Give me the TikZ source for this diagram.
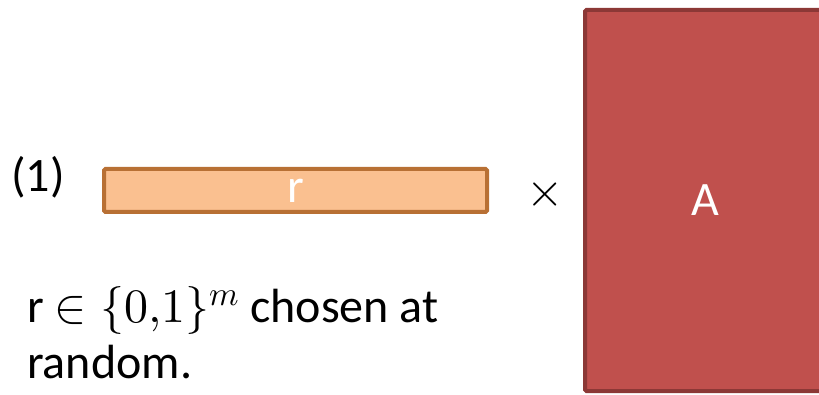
\documentclass[tikz,border=0pt]{standalone}
\usepackage{fontspec}
\usepackage{unicode-math}
\setmainfont{Carlito}
\setmathfont{Latin Modern Math}
\usetikzlibrary{positioning}

\definecolor{rfill}{RGB}{250,192,144}
\definecolor{rline}{RGB}{184,112,52}
\definecolor{afill}{RGB}{192,80,77}
\definecolor{aline}{RGB}{140,56,54}

\begin{document}
\begin{tikzpicture}[
  x=1pt, y=-1pt,
  big/.style={font=\fontsize{48}{58}\selectfont, inner sep=0pt},
  vecbox/.style={rectangle, draw=rline, fill=rfill, line width=4pt,
                 rounded corners=1.5pt, minimum width=383pt,
                 minimum height=43pt, text=white, big},
  matbox/.style={rectangle, draw=aline, fill=afill, line width=4pt,
                 rounded corners=1.5pt, minimum width=240pt,
                 minimum height=381pt, text=white, big}
]
\useasboundingbox (0,0) rectangle (819,395);
\clip (0,0) rectangle (819,395);

% ----- step (1) -----
\node[big, anchor=base west] (num) at (11,192) {(1)};
\node[vecbox] (rvec) at (295.5,190.5) {r};
\node[big] (times) at (545,195) {$\times$};
\node[matbox] (amat) at (705,200.5) {A};

% ----- caption -----
\node[big, anchor=base west] (cap1) at (27,323)
  {r $\in\{0{,}1\}^m$ chosen at};
\node[big, anchor=base west] (cap2) at (27,378) {random.};

\end{tikzpicture}
\end{document}
